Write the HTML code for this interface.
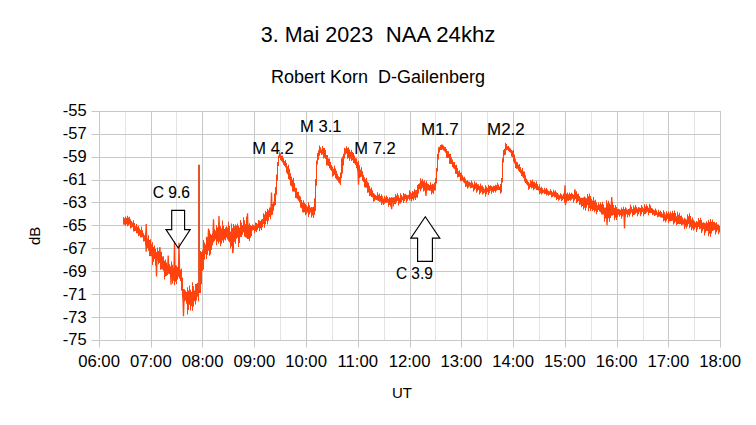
<!DOCTYPE html>
<html><head><meta charset="utf-8"><style>
html,body{margin:0;padding:0;background:#fff;width:756px;height:425px;overflow:hidden}
svg{display:block}
text{font-family:"Liberation Sans", sans-serif;fill:#000;white-space:pre}
</style></head><body>
<svg xml:space="preserve" width="756" height="425" viewBox="0 0 756 425">
<rect width="756" height="425" fill="#fff"/>
<line x1="125.50" y1="111" x2="125.50" y2="340.3" stroke="#e4e4e4" stroke-width="1"/>
<line x1="176.50" y1="111" x2="176.50" y2="340.3" stroke="#e4e4e4" stroke-width="1"/>
<line x1="228.50" y1="111" x2="228.50" y2="340.3" stroke="#e4e4e4" stroke-width="1"/>
<line x1="280.50" y1="111" x2="280.50" y2="340.3" stroke="#e4e4e4" stroke-width="1"/>
<line x1="332.50" y1="111" x2="332.50" y2="340.3" stroke="#e4e4e4" stroke-width="1"/>
<line x1="384.50" y1="111" x2="384.50" y2="340.3" stroke="#e4e4e4" stroke-width="1"/>
<line x1="435.50" y1="111" x2="435.50" y2="340.3" stroke="#e4e4e4" stroke-width="1"/>
<line x1="487.50" y1="111" x2="487.50" y2="340.3" stroke="#e4e4e4" stroke-width="1"/>
<line x1="539.50" y1="111" x2="539.50" y2="340.3" stroke="#e4e4e4" stroke-width="1"/>
<line x1="591.50" y1="111" x2="591.50" y2="340.3" stroke="#e4e4e4" stroke-width="1"/>
<line x1="643.50" y1="111" x2="643.50" y2="340.3" stroke="#e4e4e4" stroke-width="1"/>
<line x1="694.50" y1="111" x2="694.50" y2="340.3" stroke="#e4e4e4" stroke-width="1"/>
<line x1="99.50" y1="111" x2="99.50" y2="347.5" stroke="#c8c8c8" stroke-width="1"/>
<line x1="151.50" y1="111" x2="151.50" y2="347.5" stroke="#c8c8c8" stroke-width="1"/>
<line x1="202.50" y1="111" x2="202.50" y2="347.5" stroke="#c8c8c8" stroke-width="1"/>
<line x1="254.50" y1="111" x2="254.50" y2="347.5" stroke="#c8c8c8" stroke-width="1"/>
<line x1="306.50" y1="111" x2="306.50" y2="347.5" stroke="#c8c8c8" stroke-width="1"/>
<line x1="358.50" y1="111" x2="358.50" y2="347.5" stroke="#c8c8c8" stroke-width="1"/>
<line x1="410.50" y1="111" x2="410.50" y2="347.5" stroke="#c8c8c8" stroke-width="1"/>
<line x1="461.50" y1="111" x2="461.50" y2="347.5" stroke="#c8c8c8" stroke-width="1"/>
<line x1="513.50" y1="111" x2="513.50" y2="347.5" stroke="#c8c8c8" stroke-width="1"/>
<line x1="565.50" y1="111" x2="565.50" y2="347.5" stroke="#c8c8c8" stroke-width="1"/>
<line x1="617.50" y1="111" x2="617.50" y2="347.5" stroke="#c8c8c8" stroke-width="1"/>
<line x1="668.50" y1="111" x2="668.50" y2="347.5" stroke="#c8c8c8" stroke-width="1"/>
<line x1="720.50" y1="111" x2="720.50" y2="347.5" stroke="#c8c8c8" stroke-width="1"/>
<line x1="91.5" y1="111.50" x2="720.95" y2="111.50" stroke="#c8c8c8" stroke-width="1"/>
<line x1="91.5" y1="134.50" x2="720.95" y2="134.50" stroke="#c8c8c8" stroke-width="1"/>
<line x1="91.5" y1="157.50" x2="720.95" y2="157.50" stroke="#c8c8c8" stroke-width="1"/>
<line x1="91.5" y1="180.50" x2="720.95" y2="180.50" stroke="#c8c8c8" stroke-width="1"/>
<line x1="91.5" y1="202.50" x2="720.95" y2="202.50" stroke="#c8c8c8" stroke-width="1"/>
<line x1="91.5" y1="225.50" x2="720.95" y2="225.50" stroke="#c8c8c8" stroke-width="1"/>
<line x1="91.5" y1="248.50" x2="720.95" y2="248.50" stroke="#c8c8c8" stroke-width="1"/>
<line x1="91.5" y1="271.50" x2="720.95" y2="271.50" stroke="#c8c8c8" stroke-width="1"/>
<line x1="91.5" y1="294.50" x2="720.95" y2="294.50" stroke="#c8c8c8" stroke-width="1"/>
<line x1="91.5" y1="317.50" x2="720.95" y2="317.50" stroke="#c8c8c8" stroke-width="1"/>
<line x1="91.5" y1="340.50" x2="720.95" y2="340.50" stroke="#c8c8c8" stroke-width="1"/>
<text x="86.6" y="116.05" text-anchor="end" font-size="16.5">-55</text>
<text x="86.6" y="138.99" text-anchor="end" font-size="16.5">-57</text>
<text x="86.6" y="161.93" text-anchor="end" font-size="16.5">-59</text>
<text x="86.6" y="184.87" text-anchor="end" font-size="16.5">-61</text>
<text x="86.6" y="207.81" text-anchor="end" font-size="16.5">-63</text>
<text x="86.6" y="230.75" text-anchor="end" font-size="16.5">-65</text>
<text x="86.6" y="253.69" text-anchor="end" font-size="16.5">-67</text>
<text x="86.6" y="276.63" text-anchor="end" font-size="16.5">-69</text>
<text x="86.6" y="299.57" text-anchor="end" font-size="16.5">-71</text>
<text x="86.6" y="322.51" text-anchor="end" font-size="16.5">-73</text>
<text x="86.6" y="345.45" text-anchor="end" font-size="16.5">-75</text>
<text x="99.05" y="366.9" text-anchor="middle" font-size="16.7">06:00</text>
<text x="150.80" y="366.9" text-anchor="middle" font-size="16.7">07:00</text>
<text x="202.55" y="366.9" text-anchor="middle" font-size="16.7">08:00</text>
<text x="254.30" y="366.9" text-anchor="middle" font-size="16.7">09:00</text>
<text x="306.05" y="366.9" text-anchor="middle" font-size="16.7">10:00</text>
<text x="357.80" y="366.9" text-anchor="middle" font-size="16.7">11:00</text>
<text x="409.55" y="366.9" text-anchor="middle" font-size="16.7">12:00</text>
<text x="461.30" y="366.9" text-anchor="middle" font-size="16.7">13:00</text>
<text x="513.05" y="366.9" text-anchor="middle" font-size="16.7">14:00</text>
<text x="564.80" y="366.9" text-anchor="middle" font-size="16.7">15:00</text>
<text x="616.55" y="366.9" text-anchor="middle" font-size="16.7">16:00</text>
<text x="668.30" y="366.9" text-anchor="middle" font-size="16.7">17:00</text>
<text x="720.05" y="366.9" text-anchor="middle" font-size="16.7">18:00</text>
<text x="260.8" y="41.8" font-size="21.5">3. Mai 2023</text>
<text x="385.7" y="41.8" font-size="22.2">NAA 24khz</text>
<text x="271" y="82.8" font-size="18">Robert Korn  D-Gailenberg</text>
<text x="392" y="397.9" font-size="15">UT</text>
<text transform="translate(40.3,245) rotate(-90)" x="0" y="0" font-size="15">dB</text>
<text x="152.80" y="198.00" font-size="16" stroke="#000" stroke-width="0.1" textLength="37.20" lengthAdjust="spacingAndGlyphs">C 9.6</text>
<text x="252.30" y="153.80" font-size="16" stroke="#000" stroke-width="0.1" textLength="41.30" lengthAdjust="spacingAndGlyphs">M 4.2</text>
<text x="300.00" y="131.80" font-size="16" stroke="#000" stroke-width="0.1" textLength="41.50" lengthAdjust="spacingAndGlyphs">M 3.1</text>
<text x="354.30" y="153.80" font-size="16" stroke="#000" stroke-width="0.1" textLength="41.30" lengthAdjust="spacingAndGlyphs">M 7.2</text>
<text x="420.90" y="134.80" font-size="16" stroke="#000" stroke-width="0.1" textLength="37.90" lengthAdjust="spacingAndGlyphs">M1.7</text>
<text x="487.10" y="134.80" font-size="16" stroke="#000" stroke-width="0.1" textLength="37.60" lengthAdjust="spacingAndGlyphs">M2.2</text>
<text x="395.90" y="278.80" font-size="16" stroke="#000" stroke-width="0.1" textLength="36.90" lengthAdjust="spacingAndGlyphs">C 3.9</text>
<path d="M123,217.05h1V224.61h-1Z M124,218.20h1V224.85h-1Z M125,216.60h1V225.80h-1Z M126,217.96h1V224.33h-1Z M127,215.70h1V226.34h-1Z M128,217.46h1V225.16h-1Z M129,216.79h1V224.41h-1Z M130,219.32h1V228.46h-1Z M131,221.05h1V227.71h-1Z M132,222.41h1V227.07h-1Z M133,220.23h1V231.49h-1Z M134,223.06h1V231.34h-1Z M135,226.18h1V231.02h-1Z M136,224.11h1V233.37h-1Z M137,226.67h1V233.18h-1Z M138,225.84h1V236.29h-1Z M139,228.30h1V235.40h-1Z M140,230.06h1V237.47h-1Z M141,226.50h1V237.30h-1Z M142,230.17h1V237.17h-1Z M143,233.32h1V241.53h-1Z M144,235.30h1V241.20h-1Z M145,233.49h1V244.70h-1Z M146,235.81h1V244.70h-1Z M147,238.60h1V247.99h-1Z M148,235.30h1V250.72h-1Z M149,240.01h1V255.94h-1Z M150,239.30h1V256.15h-1Z M151,243.90h1V256.36h-1Z M152,242.28h1V264.99h-1Z M153,247.03h1V261.97h-1Z M154,245.39h1V259.02h-1Z M155,248.71h1V265.47h-1Z M156,251.89h1V262.90h-1Z M157,247.43h1V260.51h-1Z M158,250.94h1V264.14h-1Z M159,248.18h1V263.08h-1Z M160,252.36h1V269.77h-1Z M161,251.63h1V269.19h-1Z M162,256.40h1V269.42h-1Z M163,256.29h1V271.16h-1Z M164,260.73h1V279.39h-1Z M165,259.52h1V276.38h-1Z M166,262.47h1V276.04h-1Z M167,265.50h1V274.91h-1Z M168,262.17h1V273.73h-1Z M169,264.25h1V274.17h-1Z M170,266.34h1V274.91h-1Z M171,261.47h1V275.55h-1Z M172,264.69h1V283.55h-1Z M173,267.98h1V280.64h-1Z M174,261.46h1V285.29h-1Z M175,265.25h1V281.63h-1Z M176,265.49h1V284.05h-1Z M177,266.97h1V279.68h-1Z M178,262.31h1V276.80h-1Z M179,266.16h1V278.76h-1Z M180,269.80h1V280.90h-1Z M181,268.54h1V290.82h-1Z M182,277.48h1V297.39h-1Z M183,288.94h1V299.64h-1Z M184,289.28h1V301.34h-1Z M185,290.57h1V300.51h-1Z M186,292.04h1V303.71h-1Z M187,287.23h1V314.39h-1Z M188,290.61h1V310.06h-1Z M189,285.41h1V304.74h-1Z M190,289.65h1V310.59h-1Z M191,291.80h1V306.03h-1Z M192,282.19h1V310.70h-1Z M193,286.31h1V306.53h-1Z M194,290.53h1V301.37h-1Z M195,284.03h1V304.48h-1Z M196,283.87h1V300.59h-1Z M197,283.09h1V296.74h-1Z M198,270.29h1V301.60h-1Z M199,262.18h1V292.92h-1Z M200,250.89h1V292.89h-1Z M201,251.88h1V284.15h-1Z M202,250.29h1V271.07h-1Z M203,240.07h1V269.46h-1Z M204,242.40h1V259.64h-1Z M205,244.42h1V254.22h-1Z M206,236.84h1V259.10h-1Z M207,237.37h1V254.64h-1Z M208,239.14h1V250.66h-1Z M209,230.31h1V255.73h-1Z M210,233.87h1V254.54h-1Z M211,235.02h1V249.92h-1Z M212,233.44h1V245.19h-1Z M213,233.07h1V242.61h-1Z M214,229.19h1V241.09h-1Z M215,230.39h1V239.40h-1Z M216,225.17h1V245.29h-1Z M217,227.50h1V241.60h-1Z M218,229.94h1V243.79h-1Z M219,224.51h1V241.66h-1Z M220,226.19h1V246.25h-1Z M221,228.38h1V243.84h-1Z M222,220.43h1V240.62h-1Z M223,225.40h1V242.63h-1Z M224,229.06h1V239.52h-1Z M225,227.38h1V240.49h-1Z M226,226.14h1V237.40h-1Z M227,227.46h1V239.45h-1Z M228,221.70h1V241.04h-1Z M229,226.10h1V242.30h-1Z M230,231.42h1V248.50h-1Z M231,223.46h1V246.38h-1Z M232,228.09h1V253.21h-1Z M233,224.09h1V249.13h-1Z M234,226.25h1V241.65h-1Z M235,224.49h1V243.66h-1Z M236,225.44h1V238.83h-1Z M237,223.53h1V237.66h-1Z M238,225.52h1V246.98h-1Z M239,227.40h1V243.09h-1Z M240,219.97h1V236.90h-1Z M241,222.47h1V236.88h-1Z M242,225.01h1V234.72h-1Z M243,217.31h1V232.55h-1Z M244,220.30h1V236.38h-1Z M245,224.20h1V237.15h-1Z M246,216.50h1V237.67h-1Z M247,220.96h1V238.97h-1Z M248,224.72h1V239.06h-1Z M249,223.27h1V241.24h-1Z M250,224.92h1V237.75h-1Z M251,225.90h1V236.03h-1Z M252,224.42h1V230.56h-1Z M253,225.03h1V229.97h-1Z M254,225.60h1V233.45h-1Z M255,222.44h1V231.26h-1Z M256,223.09h1V231.90h-1Z M257,223.80h1V230.03h-1Z M258,220.07h1V228.10h-1Z M259,220.53h1V231.17h-1Z M260,221.04h1V228.41h-1Z M261,219.62h1V230.34h-1Z M262,218.93h1V227.16h-1Z M263,213.31h1V223.92h-1Z M264,214.48h1V227.75h-1Z M265,210.76h1V224.25h-1Z M266,211.94h1V220.69h-1Z M267,208.63h1V224.54h-1Z M268,210.27h1V220.66h-1Z M269,207.45h1V217.07h-1Z M270,207.76h1V219.27h-1Z M271,204.00h1V215.23h-1Z M272,204.11h1V214.85h-1Z M273,201.77h1V210.81h-1Z M274,193.40h1V206.13h-1Z M275,187.00h1V204.88h-1Z M276,174.50h1V194.69h-1Z M277,162.03h1V180.70h-1Z M278,155.45h1V166.09h-1Z M279,152.37h1V158.03h-1Z M280,153.16h1V159.95h-1Z M281,155.77h1V161.28h-1Z M282,155.40h1V162.40h-1Z M283,158.17h1V164.67h-1Z M284,161.11h1V166.02h-1Z M285,159.88h1V167.43h-1Z M286,162.98h1V172.77h-1Z M287,166.57h1V174.23h-1Z M288,164.80h1V179.07h-1Z M289,168.67h1V180.10h-1Z M290,173.27h1V185.38h-1Z M291,176.46h1V186.50h-1Z M292,179.56h1V191.47h-1Z M293,177.86h1V191.47h-1Z M294,182.96h1V191.73h-1Z M295,187.76h1V197.89h-1Z M296,187.89h1V198.23h-1Z M297,191.97h1V199.37h-1Z M298,191.76h1V200.87h-1Z M299,195.51h1V202.38h-1Z M300,196.56h1V207.40h-1Z M301,199.93h1V208.33h-1Z M302,202.50h1V212.27h-1Z M303,200.27h1V212.54h-1Z M304,202.80h1V212.26h-1Z M305,204.02h1V215.18h-1Z M306,205.24h1V213.95h-1Z M307,206.46h1V212.53h-1Z M308,202.16h1V217.08h-1Z M309,205.28h1V214.45h-1Z M310,207.57h1V212.57h-1Z M311,206.96h1V217.62h-1Z M312,207.13h1V215.47h-1Z M313,206.70h1V218.02h-1Z M314,198.17h1V214.75h-1Z M315,179.05h1V211.12h-1Z M316,160.58h1V185.77h-1Z M317,153.02h1V164.43h-1Z M318,150.28h1V159.85h-1Z M319,145.61h1V155.86h-1Z M320,147.36h1V153.07h-1Z M321,149.51h1V154.80h-1Z M322,145.97h1V154.56h-1Z M323,148.04h1V158.60h-1Z M324,148.12h1V157.73h-1Z M325,149.93h1V159.05h-1Z M326,154.89h1V165.31h-1Z M327,155.01h1V165.59h-1Z M328,158.44h1V165.99h-1Z M329,158.39h1V168.17h-1Z M330,162.01h1V169.66h-1Z M331,164.96h1V170.97h-1Z M332,166.77h1V176.77h-1Z M333,168.63h1V175.70h-1Z M334,165.40h1V174.67h-1Z M335,168.53h1V178.25h-1Z M336,170.87h1V179.40h-1Z M337,173.65h1V180.55h-1Z M338,176.35h1V182.41h-1Z M339,176.90h1V183.39h-1Z M340,172.43h1V184.99h-1Z M341,158.41h1V178.36h-1Z M342,156.51h1V173.48h-1Z M343,153.73h1V165.51h-1Z M344,147.76h1V158.51h-1Z M345,148.60h1V154.45h-1Z M346,146.22h1V153.50h-1Z M347,148.07h1V158.66h-1Z M348,147.24h1V157.88h-1Z M349,149.53h1V160.77h-1Z M350,151.80h1V158.75h-1Z M351,149.76h1V160.94h-1Z M352,152.10h1V160.22h-1Z M353,153.09h1V162.94h-1Z M354,155.58h1V163.50h-1Z M355,158.13h1V164.91h-1Z M356,158.13h1V168.28h-1Z M357,161.87h1V171.01h-1Z M358,160.78h1V172.86h-1Z M359,165.35h1V177.97h-1Z M360,169.43h1V177.27h-1Z M361,167.33h1V176.83h-1Z M362,171.20h1V180.81h-1Z M363,174.97h1V182.08h-1Z M364,177.14h1V187.30h-1Z M365,179.31h1V187.62h-1Z M366,177.70h1V187.80h-1Z M367,181.52h1V192.76h-1Z M368,182.66h1V192.53h-1Z M369,185.78h1V196.11h-1Z M370,188.77h1V195.81h-1Z M371,187.42h1V197.11h-1Z M372,190.28h1V197.51h-1Z M373,193.06h1V201.87h-1Z M374,193.67h1V201.10h-1Z M375,194.94h1V199.65h-1Z M376,195.84h1V200.11h-1Z M377,192.24h1V200.51h-1Z M378,194.84h1V200.91h-1Z M379,193.49h1V201.65h-1Z M380,195.90h1V201.64h-1Z M381,194.32h1V204.99h-1Z M382,196.37h1V203.49h-1Z M383,198.42h1V205.09h-1Z M384,195.86h1V203.73h-1Z M385,197.43h1V202.74h-1Z M386,195.42h1V202.67h-1Z M387,197.08h1V202.58h-1Z M388,198.81h1V206.85h-1Z M389,197.00h1V204.90h-1Z M390,197.89h1V206.44h-1Z M391,197.03h1V204.64h-1Z M392,197.55h1V202.52h-1Z M393,197.16h1V206.48h-1Z M394,197.33h1V204.00h-1Z M395,193.95h1V204.24h-1Z M396,195.47h1V202.56h-1Z M397,193.31h1V200.91h-1Z M398,195.13h1V205.43h-1Z M399,197.64h1V203.44h-1Z M400,193.26h1V203.61h-1Z M401,194.89h1V201.90h-1Z M402,196.39h1V200.27h-1Z M403,192.96h1V203.11h-1Z M404,194.37h1V201.06h-1Z M405,193.75h1V199.23h-1Z M406,194.63h1V202.80h-1Z M407,195.32h1V200.84h-1Z M408,194.76h1V198.76h-1Z M409,190.34h1V200.39h-1Z M410,191.70h1V198.92h-1Z M411,193.15h1V201.47h-1Z M412,191.12h1V199.04h-1Z M413,191.64h1V200.61h-1Z M414,189.17h1V198.25h-1Z M415,190.31h1V200.02h-1Z M416,189.95h1V197.60h-1Z M417,184.96h1V197.78h-1Z M418,184.10h1V193.51h-1Z M419,183.26h1V189.24h-1Z M420,178.34h1V191.27h-1Z M421,180.48h1V189.25h-1Z M422,178.63h1V187.64h-1Z M423,181.22h1V191.39h-1Z M424,180.23h1V190.73h-1Z M425,182.73h1V193.93h-1Z M426,181.08h1V191.98h-1Z M427,183.43h1V190.60h-1Z M428,183.99h1V190.33h-1Z M429,185.07h1V190.86h-1Z M430,182.20h1V190.77h-1Z M431,184.85h1V194.50h-1Z M432,183.87h1V192.75h-1Z M433,184.18h1V193.94h-1Z M434,182.47h1V190.57h-1Z M435,178.09h1V190.49h-1Z M436,167.94h1V183.62h-1Z M437,153.81h1V171.39h-1Z M438,147.17h1V159.49h-1Z M439,146.79h1V152.41h-1Z M440,144.96h1V150.00h-1Z M441,144.60h1V150.12h-1Z M442,144.54h1V149.52h-1Z M443,145.62h1V150.42h-1Z M444,146.79h1V151.40h-1Z M445,147.05h1V152.73h-1Z M446,149.00h1V157.82h-1Z M447,150.99h1V157.94h-1Z M448,151.26h1V158.00h-1Z M449,153.98h1V163.80h-1Z M450,153.68h1V163.90h-1Z M451,157.13h1V163.88h-1Z M452,159.47h1V166.99h-1Z M453,161.93h1V168.19h-1Z M454,162.02h1V169.36h-1Z M455,165.11h1V173.82h-1Z M456,164.69h1V173.98h-1Z M457,167.93h1V177.39h-1Z M458,171.17h1V177.12h-1Z M459,170.29h1V176.80h-1Z M460,172.68h1V181.28h-1Z M461,172.62h1V180.96h-1Z M462,175.13h1V180.65h-1Z M463,177.57h1V182.26h-1Z M464,176.63h1V183.28h-1Z M465,178.77h1V186.96h-1Z M466,180.98h1V186.59h-1Z M467,180.22h1V188.86h-1Z M468,181.52h1V187.62h-1Z M469,181.86h1V186.45h-1Z M470,182.80h1V188.20h-1Z M471,180.49h1V187.94h-1Z M472,182.55h1V187.72h-1Z M473,184.52h1V191.54h-1Z M474,181.30h1V190.21h-1Z M475,183.36h1V188.81h-1Z M476,182.48h1V192.80h-1Z M477,184.28h1V191.39h-1Z M478,184.23h1V190.07h-1Z M479,185.64h1V194.45h-1Z M480,183.61h1V193.09h-1Z M481,185.78h1V191.66h-1Z M482,185.52h1V194.41h-1Z M483,187.20h1V193.87h-1Z M484,188.87h1V192.73h-1Z M485,185.33h1V196.87h-1Z M486,186.79h1V194.34h-1Z M487,188.11h1V191.96h-1Z M488,184.82h1V195.12h-1Z M489,186.08h1V192.89h-1Z M490,185.22h1V190.78h-1Z M491,185.97h1V193.65h-1Z M492,186.72h1V191.73h-1Z M493,185.86h1V192.69h-1Z M494,185.92h1V191.01h-1Z M495,184.79h1V192.60h-1Z M496,185.14h1V190.73h-1Z M497,182.73h1V190.00h-1Z M498,184.53h1V190.07h-1Z M499,186.49h1V190.13h-1Z M500,183.88h1V193.82h-1Z M501,177.89h1V192.51h-1Z M502,158.19h1V182.60h-1Z M503,149.94h1V162.55h-1Z M504,148.67h1V155.34h-1Z M505,142.80h1V154.65h-1Z M506,144.11h1V150.36h-1Z M507,146.21h1V149.79h-1Z M508,145.98h1V150.93h-1Z M509,147.45h1V151.93h-1Z M510,148.56h1V152.75h-1Z M511,149.67h1V156.42h-1Z M512,150.80h1V157.35h-1Z M513,150.06h1V161.86h-1Z M514,154.46h1V163.46h-1Z M515,158.68h1V168.05h-1Z M516,161.78h1V168.72h-1Z M517,162.32h1V168.73h-1Z M518,164.67h1V170.69h-1Z M519,163.94h1V172.08h-1Z M520,166.93h1V173.15h-1Z M521,169.85h1V175.93h-1Z M522,168.10h1V176.63h-1Z M523,171.30h1V178.10h-1Z M524,171.59h1V181.50h-1Z M525,175.18h1V182.92h-1Z M526,178.78h1V184.19h-1Z M527,180.29h1V185.39h-1Z M528,181.88h1V189.82h-1Z M529,183.53h1V188.66h-1Z M530,180.03h1V187.06h-1Z M531,181.28h1V188.42h-1Z M532,179.60h1V187.79h-1Z M533,181.79h1V190.13h-1Z M534,181.79h1V189.04h-1Z M535,183.20h1V188.16h-1Z M536,181.31h1V190.06h-1Z M537,183.90h1V190.23h-1Z M538,186.37h1V190.42h-1Z M539,184.21h1V194.47h-1Z M540,187.69h1V193.34h-1Z M541,186.67h1V194.50h-1Z M542,188.21h1V193.58h-1Z M543,189.68h1V192.72h-1Z M544,187.86h1V194.24h-1Z M545,189.18h1V193.80h-1Z M546,188.03h1V195.56h-1Z M547,189.53h1V194.67h-1Z M548,190.80h1V195.77h-1Z M549,191.14h1V195.00h-1Z M550,189.30h1V194.70h-1Z M551,190.68h1V197.55h-1Z M552,192.24h1V196.89h-1Z M553,189.78h1V196.04h-1Z M554,191.44h1V197.29h-1Z M555,190.22h1V197.16h-1Z M556,192.27h1V200.03h-1Z M557,193.09h1V199.00h-1Z M558,194.18h1V200.73h-1Z M559,195.22h1V199.79h-1Z M560,193.25h1V198.86h-1Z M561,194.22h1V201.25h-1Z M562,195.41h1V200.25h-1Z M563,193.39h1V199.05h-1Z M564,194.23h1V202.66h-1Z M565,191.86h1V200.79h-1Z M566,193.79h1V202.28h-1Z M567,192.45h1V200.67h-1Z M568,194.18h1V200.97h-1Z M569,192.47h1V200.09h-1Z M570,193.89h1V200.81h-1Z M571,192.80h1V199.86h-1Z M572,193.74h1V198.83h-1Z M573,194.78h1V202.51h-1Z M574,190.31h1V200.52h-1Z M575,192.39h1V199.01h-1Z M576,191.22h1V203.32h-1Z M577,194.08h1V202.04h-1Z M578,193.57h1V200.92h-1Z M579,195.98h1V205.04h-1Z M580,197.78h1V204.43h-1Z M581,197.73h1V207.28h-1Z M582,197.64h1V206.08h-1Z M583,197.56h1V209.53h-1Z M584,196.45h1V207.80h-1Z M585,197.44h1V210.48h-1Z M586,198.14h1V207.69h-1Z M587,193.93h1V204.90h-1Z M588,196.28h1V211.14h-1Z M589,193.61h1V208.26h-1Z M590,196.10h1V210.88h-1Z M591,198.80h1V209.09h-1Z M592,200.40h1V211.10h-1Z M593,197.00h1V209.98h-1Z M594,200.76h1V212.23h-1Z M595,199.79h1V210.87h-1Z M596,202.55h1V214.20h-1Z M597,205.21h1V212.10h-1Z M598,202.54h1V210.08h-1Z M599,204.48h1V211.51h-1Z M600,202.14h1V212.32h-1Z M601,204.30h1V214.37h-1Z M602,201.82h1V214.54h-1Z M603,204.45h1V214.54h-1Z M604,207.45h1V221.70h-1Z M605,207.45h1V218.38h-1Z M606,200.30h1V214.91h-1Z M607,203.31h1V221.62h-1Z M608,200.66h1V218.15h-1Z M609,203.17h1V221.75h-1Z M610,204.63h1V218.09h-1Z M611,204.99h1V215.85h-1Z M612,201.86h1V215.42h-1Z M613,204.96h1V215.06h-1Z M614,207.79h1V220.16h-1Z M615,204.91h1V217.68h-1Z M616,207.07h1V219.88h-1Z M617,209.04h1V217.20h-1Z M618,208.87h1V214.77h-1Z M619,209.25h1V216.75h-1Z M620,209.78h1V215.28h-1Z M621,207.41h1V218.68h-1Z M622,209.05h1V216.57h-1Z M623,206.78h1V214.58h-1Z M624,209.04h1V218.61h-1Z M625,207.16h1V216.66h-1Z M626,208.40h1V214.20h-1Z M627,209.67h1V217.47h-1Z M628,208.95h1V215.09h-1Z M629,208.50h1V216.70h-1Z M630,204.50h1V214.36h-1Z M631,206.72h1V212.50h-1Z M632,208.94h1V216.78h-1Z M633,205.48h1V214.88h-1Z M634,207.45h1V214.63h-1Z M635,204.99h1V213.81h-1Z M636,206.75h1V212.77h-1Z M637,208.56h1V216.33h-1Z M638,207.03h1V214.26h-1Z M639,207.38h1V212.15h-1Z M640,208.01h1V216.24h-1Z M641,205.04h1V214.14h-1Z M642,206.71h1V212.08h-1Z M643,208.35h1V216.29h-1Z M644,204.34h1V214.24h-1Z M645,206.38h1V214.00h-1Z M646,204.22h1V212.83h-1Z M647,206.02h1V211.69h-1Z M648,207.76h1V215.34h-1Z M649,203.70h1V213.10h-1Z M650,205.53h1V213.11h-1Z M651,208.11h1V212.93h-1Z M652,208.54h1V215.06h-1Z M653,209.45h1V214.54h-1Z M654,210.34h1V216.08h-1Z M655,208.39h1V215.55h-1Z M656,210.29h1V215.04h-1Z M657,212.16h1V217.21h-1Z M658,209.86h1V216.79h-1Z M659,211.73h1V216.40h-1Z M660,210.66h1V217.18h-1Z M661,212.09h1V217.51h-1Z M662,213.85h1V217.83h-1Z M663,210.25h1V221.57h-1Z M664,212.16h1V220.41h-1Z M665,214.41h1V222.62h-1Z M666,211.18h1V220.77h-1Z M667,213.23h1V218.96h-1Z M668,211.19h1V222.88h-1Z M669,213.50h1V221.21h-1Z M670,211.39h1V221.28h-1Z M671,213.27h1V221.05h-1Z M672,210.78h1V220.72h-1Z M673,212.93h1V224.40h-1Z M674,210.61h1V223.19h-1Z M675,213.12h1V221.67h-1Z M676,216.20h1V225.19h-1Z M677,211.66h1V224.21h-1Z M678,214.84h1V224.00h-1Z M679,212.67h1V224.15h-1Z M680,215.89h1V223.93h-1Z M681,215.56h1V225.22h-1Z M682,217.59h1V224.79h-1Z M683,219.52h1V224.38h-1Z M684,217.63h1V229.08h-1Z M685,218.75h1V226.81h-1Z M686,219.52h1V228.60h-1Z M687,214.34h1V226.41h-1Z M688,216.33h1V224.08h-1Z M689,213.30h1V228.35h-1Z M690,215.91h1V226.76h-1Z M691,219.40h1V230.35h-1Z M692,217.60h1V228.51h-1Z M693,219.87h1V230.56h-1Z M694,221.07h1V229.37h-1Z M695,222.45h1V227.56h-1Z M696,221.02h1V232.07h-1Z M697,221.79h1V229.52h-1Z M698,217.91h1V227.00h-1Z M699,220.10h1V229.27h-1Z M700,217.73h1V228.69h-1Z M701,220.06h1V232.88h-1Z M702,222.68h1V231.17h-1Z M703,222.33h1V229.18h-1Z M704,222.77h1V235.44h-1Z M705,223.34h1V232.77h-1Z M706,221.35h1V231.12h-1Z M707,222.65h1V230.86h-1Z M708,219.71h1V236.22h-1Z M709,222.03h1V233.70h-1Z M710,219.11h1V236.80h-1Z M711,221.81h1V233.58h-1Z M712,219.52h1V230.91h-1Z M713,222.10h1V230.50h-1Z M714,221.84h1V230.10h-1Z M715,223.21h1V234.44h-1Z M716,222.26h1V232.23h-1Z M717,224.46h1V230.36h-1Z M718,224.47h1V234.21h-1Z M719,226.06h1V232.52h-1Z" fill="#ff420e" stroke="none"/>
<path d="M145.60,239.30 L146.20,224.00 L146.80,239.30 M145.60,239.30 L146.20,251.60 L146.80,239.30 M155.90,256.00 L156.50,276.60 L157.10,256.00 M159.30,258.43 L159.90,247.00 L160.50,258.43 M167.60,269.57 L168.20,255.60 L168.80,269.57 M170.40,270.82 L171.00,284.60 L171.60,270.82 M173.90,272.99 L174.50,241.60 L175.10,272.99 M178.40,273.00 L179.00,242.80 L179.60,273.00 M182.90,296.50 L183.50,316.20 L184.10,296.50 M207.90,244.40 L208.50,228.40 L209.10,244.40 M212.90,236.38 L213.50,219.20 L214.10,236.38 M218.40,233.60 L219.00,216.00 L219.60,233.60 M232.40,238.40 L233.00,252.80 L233.60,238.40 M246.90,231.60 L247.50,213.20 L248.10,231.60 M270.90,210.50 L271.50,192.40 L272.10,210.50 M357.90,169.52 L358.50,184.60 L359.10,169.52 M391.10,200.64 L391.70,209.30 L392.30,200.64 M425.40,187.60 L426.00,196.00 L426.60,187.60 M564.40,197.20 L565.00,185.40 L565.60,197.20 M564.90,197.24 L565.50,205.20 L566.10,197.24 M611.10,210.43 L611.70,197.00 L612.30,210.43 M574.40,196.50 L575.00,189.20 L575.60,196.50 M606.40,211.03 L607.00,225.20 L607.60,211.03 M623.90,212.90 L624.50,228.40 L625.10,212.90" fill="none" stroke="#ff420e" stroke-width="1.3" stroke-linejoin="miter"/>
<line x1="199.0" y1="164.8" x2="199.0" y2="290" stroke="#e0552a" stroke-width="2"/>
<path d="M171.7,210.4 L184.6,210.4 L184.6,229.6 L190.2,229.6 L178.2,248.0 L166.0,229.6 L171.7,229.6 Z" fill="none" stroke="#000" stroke-width="1.15" stroke-linejoin="miter" stroke-miterlimit="10"/>
<path d="M425.3,216.8 L439.8,238.1 L432.4,238.1 L432.4,261.4 L417.6,261.4 L417.6,238.1 L410.8,238.1 Z" fill="#fff" stroke="#000" stroke-width="1.15" stroke-linejoin="miter" stroke-miterlimit="10"/>
</svg>
</body></html>
